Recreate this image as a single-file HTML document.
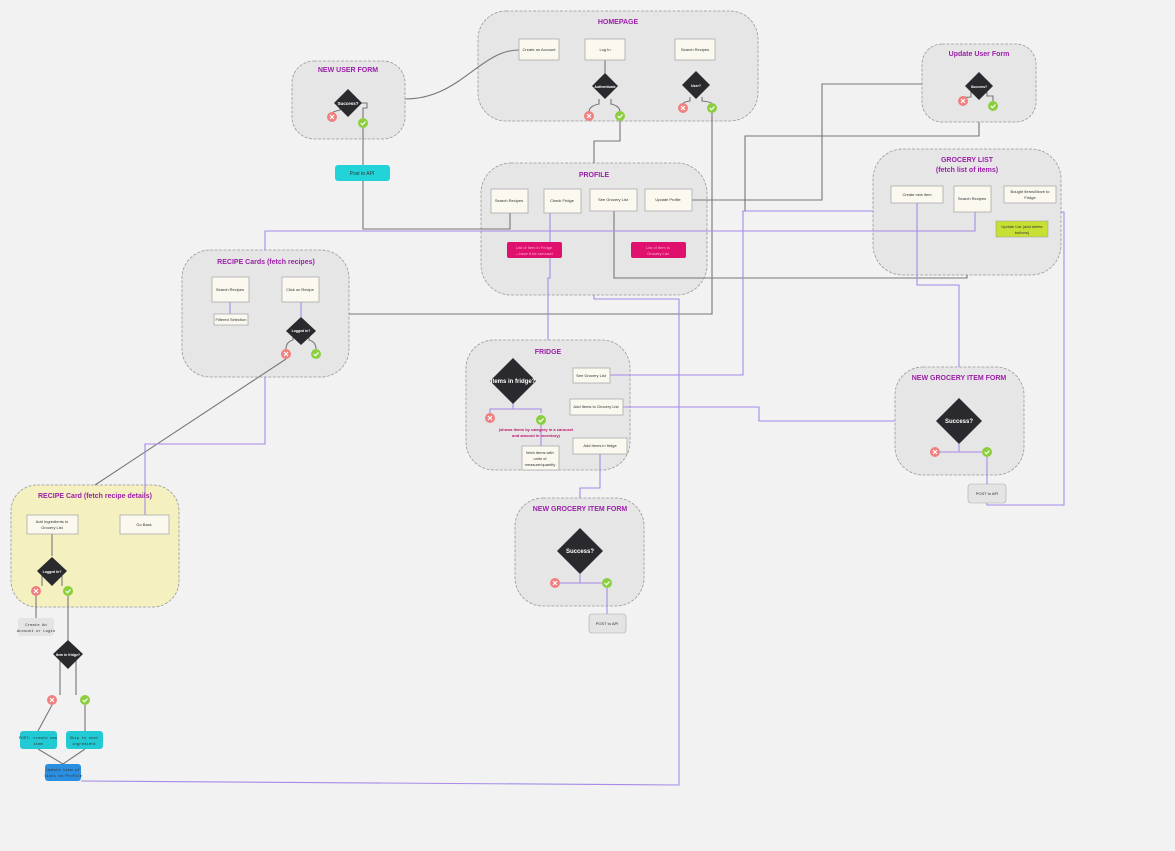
<!DOCTYPE html>
<html><head><meta charset="utf-8"><style>
html,body{margin:0;padding:0;background:#f2f2f2;}
svg{display:block;font-family:"Liberation Sans",sans-serif;}
.c{fill:#e6e6e6;stroke:#999;stroke-width:0.8;stroke-dasharray:3 1.5;}
.b{fill:#fbf8f0;stroke:#aaa;stroke-width:0.8;}
.t{fill:#9b1fa8;font-weight:bold;font-size:7px;text-anchor:middle;}
.s{font-size:4px;fill:#333;text-anchor:middle;}
.w{font-size:4.5px;fill:#fff;text-anchor:middle;font-weight:bold;}
.g{fill:none;stroke:#777;stroke-width:1.1;}
.p{fill:none;stroke:#a58be6;stroke-width:1.1;}
.d{fill:#2a2a2e;}
</style></head><body>
<svg width="1175" height="851" viewBox="0 0 1175 851">
<rect width="1175" height="851" fill="#f2f2f2"/>
<defs>
<g id="x"><circle r="5" fill="#f08080"/><path d="M-2,-2L2,2M2,-2L-2,2" stroke="#fff" stroke-width="1.2"/></g>
<g id="v"><circle r="5" fill="#8ccf3e"/><path d="M-2.3,0L-0.5,1.8L2.5,-1.5" stroke="#fff" stroke-width="1.2" fill="none"/></g>
</defs>

<!-- containers -->
<rect class="c" x="478" y="11" width="280" height="110" rx="28"/>
<rect class="c" x="292" y="61" width="113" height="78" rx="22"/>
<rect class="c" x="922" y="44" width="114" height="78" rx="20"/>
<rect class="c" x="481" y="163" width="226" height="132" rx="30"/>
<rect class="c" x="873" y="149" width="188" height="126" rx="30"/>
<rect class="c" x="182" y="250" width="167" height="127" rx="28"/>
<rect class="c" x="466" y="340" width="164" height="130" rx="28"/>
<rect class="c" x="895" y="367" width="129" height="108" rx="28"/>
<rect class="c" x="515" y="498" width="129" height="108" rx="28"/>
<rect x="11" y="485" width="168" height="122" rx="26" fill="#f5f0c0" stroke="#999" stroke-width="0.8" stroke-dasharray="3 1.5"/>

<!-- gray lines -->
<path class="g" d="M405,99 C460,99 480,50 519,50"/>
<path class="g" d="M605,60V73"/>
<path class="g" d="M599,99 V104 Q589,106 589,112 M611,99 V104 Q620,106 620,112"/>
<path class="g" d="M620,121V141H594V163"/>
<path class="g" d="M690,97V101Q683,102 683,104 M702,97V101Q712,102 712,104"/>
<path class="g" d="M712,113V314H349"/>
<path class="g" d="M340,103V110Q332,112 332,113 M356,103H367V108H363V118"/>
<path class="g" d="M363,128V229H510V213"/>
<path class="g" d="M692,200H822V84H922"/>
<path class="g" d="M979,122V136H745V211"/>
<path class="g" d="M971,92V97Q963,98 963,96 M987,92V96H993V101"/>
<path class="g" d="M614,211V278H967V275"/>
<path class="g" d="M286,359L95,485"/>
<path class="g" d="M293,332V340Q286,342 286,349 M309,332V340Q316,342 316,349"/>
<path class="g" d="M52,534V556 M42,571V586 M62,571V586 M36,596V618 M68,596V654 M60,654V695 M76,654V695 M52,705L38,731 M85,705V731 M38,749L63,764 M85,749L63,764"/>

<!-- purple lines -->
<path class="p" d="M265,250V231H975V212"/>
<path class="p" d="M230,302V314 M301,302V317"/>
<path class="p" d="M550,213V278H548V340"/>
<path class="p" d="M594,295V299H679V785L81,781"/>
<path class="p" d="M610,375H743V211H873"/>
<path class="p" d="M623,407H759V421H895"/>
<path class="p" d="M917,203V285H959V367"/>
<path class="p" d="M1061,212H1064V505H987V503"/>
<path class="p" d="M600,454V488H580V498"/>
<path class="p" d="M265,377V444H145V515"/>
<path class="p" d="M513,402V409H490V413 M513,409H541V413 M541,423V446"/>
<path class="p" d="M959,444V452H940 M959,452H982 M987,457V484"/>
<path class="p" d="M580,574V583H560 M580,583H602 M607,588V614"/>

<!-- titles -->
<text class="t" x="618" y="24">HOMEPAGE</text>
<text class="t" x="348" y="72">NEW USER FORM</text>
<text class="t" x="979" y="56">Update User Form</text>
<text class="t" x="594" y="177">PROFILE</text>
<text class="t" x="967" y="162">GROCERY LIST</text>
<text class="t" x="967" y="172">(fetch list of items)</text>
<text class="t" x="266" y="264">RECIPE Cards (fetch recipes)</text>
<text class="t" x="548" y="354">FRIDGE</text>
<text class="t" x="959" y="380">NEW GROCERY ITEM FORM</text>
<text class="t" x="580" y="511">NEW GROCERY ITEM FORM</text>
<text class="t" x="95" y="498">RECIPE Card (fetch recipe details)</text>

<!-- boxes -->
<rect class="b" x="519" y="39" width="40" height="21"/><text class="s" x="539" y="51">Create an Account</text>
<rect class="b" x="585" y="39" width="40" height="21"/><text class="s" x="605" y="51">Log In</text>
<rect class="b" x="675" y="39" width="40" height="21"/><text class="s" x="695" y="51">Search Recipes</text>
<rect class="b" x="491" y="189" width="37" height="24"/><text class="s" x="509" y="202">Search Recipes</text>
<rect class="b" x="544" y="189" width="37" height="24"/><text class="s" x="562" y="202">Check Fridge</text>
<rect class="b" x="590" y="189" width="47" height="22"/><text class="s" x="613" y="201">See Grocery List</text>
<rect class="b" x="645" y="189" width="47" height="22"/><text class="s" x="668" y="201">Update Profile</text>
<rect class="b" x="891" y="186" width="52" height="17"/><text class="s" x="917" y="196">Create new item</text>
<rect class="b" x="954" y="186" width="37" height="26"/><text class="s" x="972" y="200">Search Recipes</text>
<rect class="b" x="1004" y="186" width="52" height="17"/><text class="s" x="1030" y="193">Bought Items/Move to</text><text class="s" x="1030" y="199">Fridge</text>
<rect x="996" y="221" width="52" height="16" fill="#c8e034" stroke="#999" stroke-width="0.5"/><text class="s" x="1022" y="228">Update List (add delete</text><text class="s" x="1022" y="234">buttons)</text>
<rect class="b" x="212" y="277" width="37" height="25"/><text class="s" x="230" y="291">Search Recipes</text>
<rect class="b" x="214" y="314" width="34" height="11"/><text class="s" x="231" y="321">Filtered Selection</text>
<rect class="b" x="282" y="277" width="37" height="25"/><text class="s" x="300" y="291">Click on Recipe</text>
<rect class="b" x="573" y="368" width="37" height="15"/><text class="s" x="591" y="377">See Grocery List</text>
<rect class="b" x="570" y="399" width="53" height="16"/><text class="s" x="596" y="408">Add Items to Grocery List</text>
<rect class="b" x="573" y="438" width="54" height="16"/><text class="s" x="600" y="447">Add Items in fridge</text>
<rect class="b" x="522" y="446" width="37" height="24"/><text class="s" x="540" y="454">fetch items with</text><text class="s" x="540" y="460">units of</text><text class="s" x="540" y="466">measure/quantity</text>
<rect class="b" x="27" y="515" width="51" height="19"/><text class="s" x="52" y="523">Add Ingredients to</text><text class="s" x="52" y="529">Grocery List</text>
<rect class="b" x="120" y="515" width="49" height="19"/><text class="s" x="144" y="526">Go Back</text>
<rect x="968" y="484" width="38" height="19" rx="3" fill="#e4e4e4" stroke="#aaa" stroke-width="0.6"/><text class="s" x="987" y="495">POST to API</text>
<rect x="589" y="614" width="37" height="19" rx="3" fill="#e4e4e4" stroke="#aaa" stroke-width="0.6"/><text class="s" x="607" y="625">POST to API</text>
<rect x="18" y="618" width="36" height="18" rx="3" fill="#e4e4e4"/><text class="s" x="36" y="626" style="font-family:'Liberation Mono',monospace">Create An</text><text class="s" x="36" y="632" style="font-family:'Liberation Mono',monospace">Account or Login</text>

<!-- colored -->
<rect x="335" y="165" width="55" height="16" rx="3" fill="#22d3d8"/><text class="s" x="362" y="175" style="font-size:5px">Post to API</text>
<rect x="507" y="242" width="55" height="16" rx="2" fill="#e0106e"/><text class="s" x="534" y="249" fill="#ff9ac8" style="fill:#ffb0d4">List of Item in Fridge</text><text class="s" x="534" y="255" style="fill:#ffb0d4">—have it be carousel</text>
<rect x="631" y="242" width="55" height="16" rx="2" fill="#e0106e"/><text class="s" x="658" y="249" style="fill:#ffb0d4">List of Item in</text><text class="s" x="658" y="255" style="fill:#ffb0d4">Grocery List</text>
<rect x="20" y="731" width="37" height="18" rx="3" fill="#22cbd4"/><text class="s" x="38" y="739" style="font-family:'Liberation Mono',monospace">POST: create new</text><text class="s" x="38" y="745" style="font-family:'Liberation Mono',monospace">item</text>
<rect x="66" y="731" width="37" height="18" rx="3" fill="#22cbd4"/><text class="s" x="84" y="739" style="font-family:'Liberation Mono',monospace">Skip to next</text><text class="s" x="84" y="745" style="font-family:'Liberation Mono',monospace">ingredient</text>
<rect x="45" y="764" width="36" height="17" rx="3" fill="#2a8fe0"/><text class="s" x="63" y="771" style="font-family:'Liberation Mono',monospace">Update view of</text><text class="s" x="63" y="777" style="font-family:'Liberation Mono',monospace">lists on Profile</text>
<text class="s" x="536" y="431" style="fill:#c0106e;font-weight:bold">(shows items by category in a carousel</text>
<text class="s" x="536" y="437" style="fill:#c0106e;font-weight:bold">and amount in inventory)</text>

<!-- diamonds -->
<polygon class="d" points="605,73 618,86 605,99 592,86"/><text class="w" x="605" y="88" style="font-size:3.5px">Authenticate</text>
<polygon class="d" points="696,71 710,85 696,99 682,85"/><text class="w" x="696" y="87" style="font-size:3.5px">User?</text>
<polygon class="d" points="348,89 362,103 348,117 334,103"/><text class="w" x="348" y="105">Success?</text>
<polygon class="d" points="979,72 993,86 979,100 965,86"/><text class="w" x="979" y="88" style="font-size:3.5px">Success?</text>
<polygon class="d" points="301,317 316,331 301,345 286,331"/><text class="w" x="301" y="332" style="font-size:3.5px">Logged In?</text>
<polygon class="d" points="513,358 536,381 513,404 490,381"/><text class="w" x="513" y="383" style="font-size:6px">Items in fridge?</text>
<polygon class="d" points="959,398 982,421 959,444 936,421"/><text class="w" x="959" y="423" style="font-size:6px">Success?</text>
<polygon class="d" points="580,528 603,551 580,574 557,551"/><text class="w" x="580" y="553" style="font-size:6px">Success?</text>
<polygon class="d" points="52,557 67,571 52,586 37,571"/><text class="w" x="52" y="573" style="font-size:3.5px">Logged In?</text>
<polygon class="d" points="68,640 83,654 68,669 53,654"/><text class="w" x="68" y="656" style="font-size:3.5px">Item in fridge?</text>

<!-- icons -->
<use href="#x" x="589" y="116"/><use href="#v" x="620" y="116"/>
<use href="#x" x="683" y="108"/><use href="#v" x="712" y="108"/>
<use href="#x" x="332" y="117"/><use href="#v" x="363" y="123"/>
<use href="#x" x="963" y="101"/><use href="#v" x="993" y="106"/>
<use href="#x" x="286" y="354"/><use href="#v" x="316" y="354"/>
<use href="#x" x="490" y="418"/><use href="#v" x="541" y="420"/>
<use href="#x" x="935" y="452"/><use href="#v" x="987" y="452"/>
<use href="#x" x="555" y="583"/><use href="#v" x="607" y="583"/>
<use href="#x" x="36" y="591"/><use href="#v" x="68" y="591"/>
<use href="#x" x="52" y="700"/><use href="#v" x="85" y="700"/>
</svg>
</body></html>
